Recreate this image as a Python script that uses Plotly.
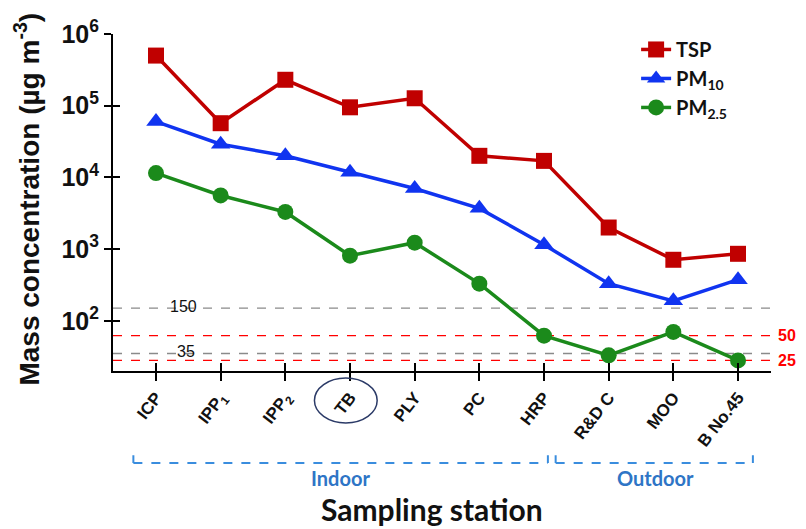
import math
import plotly.graph_objects as go

stations = ["ICP", "IPP<sub>1</sub>", "IPP<sub>2</sub>", "TB", "PLY", "PC", "HRP", "R&D C", "MOO", "B No.45"]
tsp = [500000, 57000, 230000, 95000, 127000, 20000, 17000, 2000, 710, 860]
pm10 = [60000, 29000, 20000, 11800, 7000, 3700, 1150, 330, 190, 375]
pm25 = [11500, 5600, 3300, 810, 1230, 330, 62, 33, 70, 28]

ref_gray = [150, 35]
ref_gray_labels = ["150", "35"]
ref_red = [62, 28]
ref_red_labels = ["50", "25"]

ytick_vals = [100, 1000, 10000, 100000, 1000000]
ytick_text = ["10<sup>2</sup>", "10<sup>3</sup>", "10<sup>4</sup>", "10<sup>5</sup>", "10<sup>6</sup>"]

xidx = list(range(len(stations)))
XR = [-0.665, 9.51]
YR = [1.30, 6.0]

fig = go.Figure()
series = [
    ("<b>TSP</b>", tsp, "#C00000", "square", 16),
    ("<b>PM<sub>10</sub></b>", pm10, "#1034F0", "triangle-up", 17),
    ("<b>PM<sub>2.5</sub></b>", pm25, "#1B8A1B", "circle", 16),
]
for name, vals, col, sym, sz in series:
    fig.add_trace(go.Scatter(x=xidx, y=vals, mode="lines+markers", name=name,
                             line=dict(color=col, width=3.5),
                             marker=dict(symbol=sym, size=sz, color=col)))

# dummy trace for crossing tick axes
fig.add_trace(go.Scatter(x=[0], y=[100], xaxis="x2", yaxis="y2", mode="markers",
                         marker=dict(opacity=0), showlegend=False, hoverinfo="skip"))

shapes = []
for v in ref_gray:
    shapes.append(dict(type="line", xref="paper", yref="y", x0=0, x1=1, y0=v, y1=v,
                       line=dict(color="#8A8A8A", width=1.3, dash="dash"), layer="below"))
for v in ref_red:
    shapes.append(dict(type="line", xref="paper", yref="y", x0=0, x1=1, y0=v, y1=v,
                       line=dict(color="#FF0000", width=1.3, dash="dash"), layer="below"))

# TB ellipse
shapes.append(dict(type="circle", xref="x", yref="paper", x0=2.45, x1=3.42, y0=-0.154, y1=-0.021,
                   line=dict(color="#2B3A67", width=1.5)))

# brackets
bc = "#3A8DDE"
by = -0.273
btop = -0.250
for x0, x1 in [(-0.35, 6.06), (6.18, 9.23)]:
    shapes.append(dict(type="line", xref="x", yref="paper", x0=x0, x1=x1, y0=by, y1=by,
                       line=dict(color=bc, width=2, dash="dash")))
    for xx in (x0, x1):
        shapes.append(dict(type="line", xref="x", yref="paper", x0=xx, x1=xx, y0=by, y1=btop,
                           line=dict(color=bc, width=2)))

annotations = []
for v, t, xp in zip(ref_gray, ref_gray_labels, [0.107, 0.111]):
    annotations.append(dict(x=xp, y=math.log10(v), xref="paper", yref="y", text=t, showarrow=False,
                            xanchor="center", yanchor="middle",
                            font=dict(family="Liberation Sans", size=16, color="#111111"),
                            yshift=2))
for v, t in zip(ref_red, ref_red_labels):
    annotations.append(dict(x=1.008, y=math.log10(v), xref="paper", yref="y", text="<b>%s</b>" % t,
                            showarrow=False, xanchor="left", yanchor="middle",
                            font=dict(family="Liberation Sans", size=16, color="#FF0000")))
annotations += [
    dict(x=2.85, y=-0.318, xref="x", yref="paper", text="<b>Indoor</b>", showarrow=False,
         xanchor="center", yanchor="middle",
         font=dict(family="Lato", size=20, color="#2E75C6")),
    dict(x=7.72, y=-0.318, xref="x", yref="paper", text="<b>Outdoor</b>", showarrow=False,
         xanchor="center", yanchor="middle",
         font=dict(family="Lato", size=20, color="#2E75C6")),
    dict(x=0.485, y=-0.41, xref="paper", yref="paper", text="<b>Sampling station</b>", showarrow=False,
         xanchor="center", yanchor="middle",
         font=dict(family="Lato", size=30, color="#111111")),
    dict(x=-0.13, y=0.51, xref="paper", yref="paper", text="<b>Mass concentration (µg m<sup>-3</sup>)</b>",
         showarrow=False, textangle=-90, xanchor="center", yanchor="middle",
         font=dict(family="Liberation Sans", size=28, color="#111111")),
]

fig.update_layout(
    width=798, height=521,
    margin=dict(l=105, r=35, t=26, b=158, autoexpand=False),
    paper_bgcolor="white", plot_bgcolor="white",
    showlegend=True,
    legend=dict(x=0.795, y=1.012, xanchor="left", yanchor="top",
                font=dict(family="Lato", size=20, color="#111111"),
                bgcolor="rgba(0,0,0,0)", tracegroupgap=0, itemwidth=30),
    xaxis=dict(range=XR, tickvals=xidx, ticktext=["<b>%s</b>" % s for s in stations],
               tickangle=-52, ticks="outside", ticklen=8, tickwidth=1.5, tickcolor="black",
               showline=True, linecolor="black", linewidth=2, showgrid=False, zeroline=False,
               tickfont=dict(family="Liberation Sans", size=17, color="#111111")),
    yaxis=dict(type="log", range=YR, tickvals=ytick_vals, ticktext=["<b>%s</b>" % s for s in ytick_text],
               ticks="outside", ticklen=7, tickwidth=1.5, tickcolor="black",
               showline=True, linecolor="black", linewidth=2, showgrid=False, zeroline=False,
               tickfont=dict(family="Liberation Sans", size=25, color="#111111")),
    xaxis2=dict(range=XR, overlaying="x", anchor="y", side="bottom", tickvals=xidx,
                ticks="inside", ticklen=8, tickwidth=1.5, tickcolor="black",
                showticklabels=False, showline=False, showgrid=False, zeroline=False),
    yaxis2=dict(type="log", range=YR, overlaying="y", anchor="x", side="left", tickvals=ytick_vals,
                ticks="inside", ticklen=7, tickwidth=1.5, tickcolor="black",
                showticklabels=False, showline=False, showgrid=False, zeroline=False),
    shapes=shapes, annotations=annotations,
)

fig.write_html("out.html")
